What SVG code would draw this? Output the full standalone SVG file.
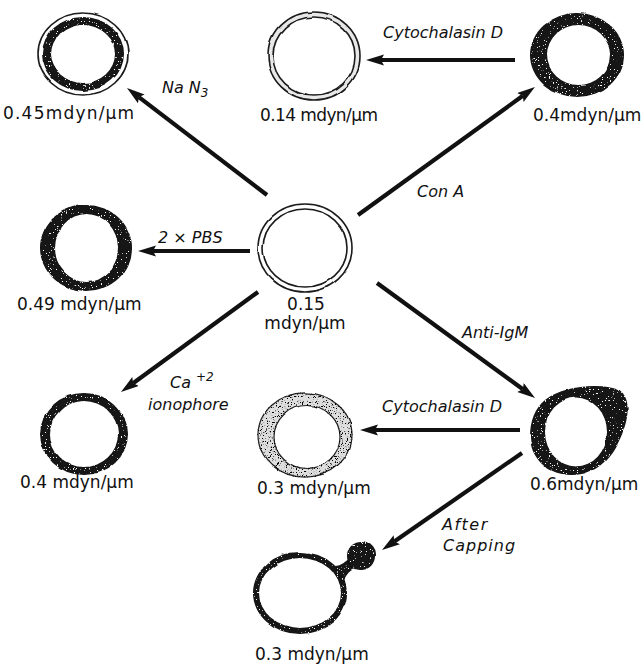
<svg xmlns="http://www.w3.org/2000/svg" width="641" height="667" viewBox="0 0 641 667">
  <defs>
    <style>
      .val { font-family: "DejaVu Sans", "Liberation Sans", sans-serif; font-size: 17px; fill: #111; }
      .lbl { font-family: "DejaVu Sans", "Liberation Sans", sans-serif; font-size: 16px; font-style: italic; fill: #111; }
      .arrow { stroke: #111; stroke-width: 4.2; fill: none; marker-end: url(#head); }
      .ink { fill: #121212; fill-rule: evenodd; }
      .stip { fill: #dedede; fill-rule: evenodd; stroke: #222; stroke-width: 1.2; }
      .thin { fill: none; stroke: #1a1a1a; stroke-width: 1.6; }
      .pale { fill: #e8e8e8; fill-rule: evenodd; }
    </style>
    <marker id="head" markerUnits="userSpaceOnUse" markerWidth="20" markerHeight="12" refX="3" refY="5.5" orient="auto">
      <path d="M0,0 L18,5.5 L0,11 L3,5.5 z" fill="#111"/>
    </marker>
    <!-- hand-drawn edge wobble plus sparse white grain for the dark bands -->
    <filter id="inkDark" x="-10%" y="-10%" width="120%" height="120%">
      <feTurbulence type="fractalNoise" baseFrequency="0.05" numOctaves="1" seed="2" result="warp"/>
      <feDisplacementMap in="SourceGraphic" in2="warp" scale="3" xChannelSelector="R" yChannelSelector="G" result="shape"/>
      <feTurbulence type="fractalNoise" baseFrequency="0.75" numOctaves="2" seed="9" result="grain"/>
      <feColorMatrix in="grain" type="matrix" values="0 0 0 0 1  0 0 0 0 1  0 0 0 0 1  16 0 0 0 -10.9" result="spots"/>
      <feComposite in="spots" in2="shape" operator="in" result="spotsIn"/>
      <feMerge><feMergeNode in="shape"/><feMergeNode in="spotsIn"/></feMerge>
    </filter>
    <!-- stippled grey band -->
    <filter id="inkStip" x="-10%" y="-10%" width="120%" height="120%">
      <feTurbulence type="fractalNoise" baseFrequency="0.05" numOctaves="1" seed="4" result="warp"/>
      <feDisplacementMap in="SourceGraphic" in2="warp" scale="3" xChannelSelector="R" yChannelSelector="G" result="shape"/>
      <feTurbulence type="fractalNoise" baseFrequency="0.8" numOctaves="2" seed="5" result="grain"/>
      <feColorMatrix in="grain" type="matrix" values="0 0 0 0 0  0 0 0 0 0  0 0 0 0 0  10 0 0 0 -5.8" result="spots"/>
      <feComposite in="spots" in2="shape" operator="in" result="spotsIn"/>
      <feMerge><feMergeNode in="shape"/><feMergeNode in="spotsIn"/></feMerge>
    </filter>
    <!-- edge wobble only -->
    <filter id="wobble" x="-10%" y="-10%" width="120%" height="120%">
      <feTurbulence type="fractalNoise" baseFrequency="0.05" numOctaves="1" seed="6" result="warp"/>
      <feDisplacementMap in="SourceGraphic" in2="warp" scale="3" xChannelSelector="R" yChannelSelector="G"/>
    </filter>
  </defs>

  <rect width="641" height="667" fill="#fff"/>

  <!-- connectors and treatment labels -->
  <g id="connectors">
    <line class="arrow" x1="267" y1="195" x2="138.9" y2="97.1"/>
    <line class="arrow" x1="515" y1="60" x2="381" y2="60"/>
    <line class="arrow" x1="358" y1="215" x2="522.8" y2="95.8"/>
    <line class="arrow" x1="250" y1="251" x2="153" y2="251"/>
    <line class="arrow" x1="258" y1="292" x2="133.1" y2="383.2"/>
    <line class="arrow" x1="377" y1="283" x2="522.9" y2="389.2"/>
    <line class="arrow" x1="520" y1="430" x2="375" y2="430"/>
    <line class="arrow" x1="522" y1="453" x2="394.3" y2="541.5"/>

    <text class="lbl" x="162" y="93">Na N<tspan dy="4" font-size="12">3</tspan></text>
    <text class="lbl" x="383" y="38">Cytochalasin D</text>
    <text class="lbl" x="417" y="197">Con A</text>
    <text class="lbl" x="158" y="243">2 × PBS</text>
    <text class="lbl" x="170" y="388">Ca<tspan dx="5" dy="-7" font-size="12">+2</tspan></text>
    <text class="lbl" x="148" y="410">ionophore</text>
    <text class="lbl" x="462" y="338">Anti-IgM</text>
    <text class="lbl" x="382" y="412">Cytochalasin D</text>
    <text class="lbl" x="442" y="530" letter-spacing="1.5">After</text>
    <text class="lbl" x="443" y="551" letter-spacing="1">Capping</text>
  </g>

  <!-- NaN3 treated: dark band inside a thin rim -->
  <g id="cell-nan3">
    <ellipse class="thin" filter="url(#wobble)" cx="83" cy="54" rx="45" ry="41"/>
    <path class="ink" filter="url(#inkDark)" d="M42,54 a41,37 0 1,0 82,0 a41,37 0 1,0 -82,0 Z M51,54 a32,29 0 1,0 64,0 a32,29 0 1,0 -64,0 Z"/>
    <text class="val" x="3" y="119" letter-spacing="1.2">0.45mdyn/μm</text>
  </g>

  <!-- Con A then cytochalasin D: thin double rim -->
  <g id="cell-cona-cyto">
    <g filter="url(#wobble)">
      <path class="pale" d="M268,56 a46,44 0 1,0 92,0 a46,44 0 1,0 -92,0 Z M273,56 a41,39 0 1,0 82,0 a41,39 0 1,0 -82,0 Z"/>
      <ellipse class="thin" cx="314" cy="56" rx="46" ry="44"/>
      <ellipse class="thin" cx="314" cy="56" rx="41" ry="39"/>
    </g>
    <text class="val" x="260" y="121" letter-spacing="-0.6">0.14 mdyn/μm</text>
  </g>

  <!-- Con A treated: thick grainy band -->
  <g id="cell-cona">
    <path class="ink" filter="url(#inkDark)" d="M530,55 a47,42 0 1,0 94,0 a47,42 0 1,0 -94,0 Z M547,55 a31.5,30 0 1,0 63,0 a31.5,30 0 1,0 -63,0 Z"/>
    <text class="val" x="533" y="121">0.4mdyn/μm</text>
  </g>

  <!-- untreated cell -->
  <g id="cell-control">
    <g filter="url(#wobble)">
      <ellipse class="thin" cx="305" cy="248" rx="47" ry="44"/>
      <ellipse class="thin" cx="305" cy="248" rx="42" ry="39"/>
    </g>
    <text class="val" x="306" y="310" text-anchor="middle">0.15</text>
    <text class="val" x="305" y="329" text-anchor="middle">mdyn/μm</text>
  </g>

  <!-- 2x PBS -->
  <g id="cell-pbs">
    <path class="ink" filter="url(#inkDark)" d="M40,248 a46,43 0 1,0 92,0 a46,43 0 1,0 -92,0 Z M55,248 a31.5,34 0 1,0 63,0 a31.5,34 0 1,0 -63,0 Z"/>
    <text class="val" x="17" y="310">0.49 mdyn/μm</text>
  </g>

  <!-- Ca ionophore -->
  <g id="cell-ca">
    <path class="ink" filter="url(#inkDark)" d="M40,434 a44,41 0 1,0 88,0 a44,41 0 1,0 -88,0 Z M50,434 a34,33 0 1,0 68,0 a34,33 0 1,0 -68,0 Z"/>
    <text class="val" x="20" y="488">0.4 mdyn/μm</text>
  </g>

  <!-- anti-IgM then cytochalasin D: stippled band -->
  <g id="cell-igm-cyto">
    <path class="stip" filter="url(#inkStip)" d="M258,435 a47,42 0 1,0 94,0 a47,42 0 1,0 -94,0 Z M274,437 a33,31.5 0 1,0 66,0 a33,31.5 0 1,0 -66,0 Z"/>
    <text class="val" x="257" y="494">0.3 mdyn/μm</text>
  </g>

  <!-- anti-IgM: band thickened at upper right -->
  <g id="cell-igm">
    <path class="ink" filter="url(#inkDark)" d="M545,400 C562,386 600,382 619,390 C632,398 629,420 619,441 C610,460 594,476 570,475 C545,474 530,456 530,436 C530,421 535,408 545,400 Z M545,432 a31,34.5 0 1,0 62,0 a31,34.5 0 1,0 -62,0 Z"/>
    <text class="val" x="530" y="490">0.6mdyn/μm</text>
  </g>

  <!-- capped cell: thin band with a cap -->
  <g id="cell-capped">
    <g filter="url(#inkDark)">
      <path class="ink" d="M253,593 a47,41 0 1,0 94,0 a47,41 0 1,0 -94,0 Z M259,593 a41,35 0 1,0 82,0 a41,35 0 1,0 -82,0 Z"/>
      <path class="ink" d="M335,566 C341,566 346,561 350,558 L355,568 C350,570 346,575 344,582 Z"/>
      <circle cx="361" cy="556" r="14" fill="#121212"/>
    </g>
    <text class="val" x="255" y="660">0.3 mdyn/μm</text>
  </g>
</svg>
